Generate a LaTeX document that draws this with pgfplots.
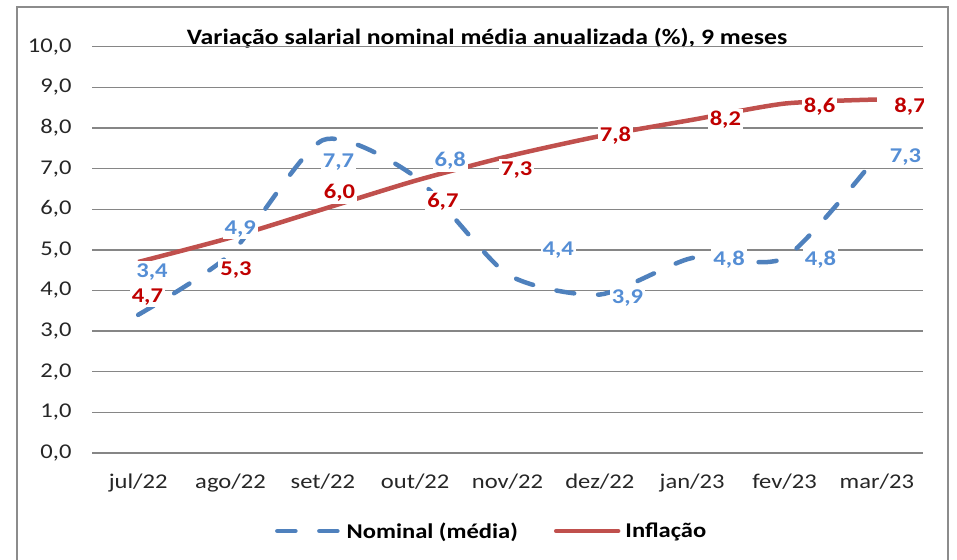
\documentclass[border=0pt]{standalone}
\usepackage{pgfplots}
\pgfplotsset{compat=1.18}
\usepackage{fontspec}
\setmainfont{Carlito}[FakeStretch=1.17]
\definecolor{serblue}{HTML}{4F81BD}
\definecolor{serred}{HTML}{C0504D}
\definecolor{lblblue}{HTML}{558ED5}
\definecolor{lblred}{HTML}{C00000}
\definecolor{gridgray}{HTML}{868686}
\definecolor{framegray}{HTML}{8C8C8C}
\pgfplotsset{
  legdash/.style={legend image code/.code={\draw[##1, line cap=round, dash pattern=on 18pt off 24pt] (0pt,0pt) -- (62pt,0pt);}},
  legsolid/.style={legend image code/.code={\draw[##1, line cap=round] (0pt,0pt) -- (62pt,0pt);}},
}
\begin{document}
\begin{tikzpicture}[x=1pt,y=1pt]
\useasboundingbox (0,0) rectangle (957,559);
\draw[framegray, line width=1.5pt] (17,-10) -- (17,552) -- (948,552) -- (948,-10);
\node[anchor=base, font=\fontsize{22}{26}\selectfont\bfseries] at (487,514) {Variação salarial nominal média anualizada (\%), 9 meses};
\begin{axis}[
  at={(92pt,106pt)}, anchor=south west,
  scale only axis, width=831pt, height=406.3pt,
  xmin=-0.5, xmax=8.5, ymin=0, ymax=10,
  xtick={0,...,8},
  xticklabels={jul/22,ago/22,set/22,out/22,nov/22,dez/22,jan/23,fev/23,mar/23},
  ytick={0,...,10},
  axis line style={draw=none},
  major tick length=0pt,
  ymajorgrids,
  grid style={gridgray, line width=1.4pt},
  tick label style={font=\fontsize{21}{25}\selectfont, text=black!85},
  /pgf/number format/assume math mode=true,
  yticklabel style={/pgf/number format/fixed, /pgf/number format/fixed zerofill, /pgf/number format/precision=1, /pgf/number format/use comma, xshift=-17pt},
  xticklabel style={yshift=-17pt},
  legend style={at={(0.481,-0.192)}, anchor=center, draw=none, fill=none,
    legend columns=2, font=\fontsize{21}{25}\selectfont\bfseries,
    /tikz/every even column/.append style={column sep=34pt},
    /tikz/every odd column/.append style={column sep=3pt}},
  legend cell align=left,
]
\addplot[serblue, line width=4.5pt, line cap=round, dash pattern=on 18pt off 24pt, smooth, tension=0.4, legdash]
  coordinates {(0,3.4) (1,4.9) (2,7.7) (3,6.8) (4,4.4) (5,3.9) (6,4.8) (7,4.8) (8,7.3)};
\addlegendentry{Nominal (média)}
\addplot[serred, line width=4.5pt, smooth, tension=0.4, legsolid]
  coordinates {(0,4.7) (1,5.3) (2,6.0) (3,6.7) (4,7.3) (5,7.8) (6,8.2) (7,8.6) (8,8.7)};
\addlegendentry{Inflação}
\begin{scope}[every node/.style={fill=white, inner sep=2pt, font=\fontsize{21}{25}\selectfont\bfseries}]
\node[text=lblblue] at (axis cs:0.15,4.46) {3,4};
\node[text=lblblue] at (axis cs:1.105,5.52) {4,9};
\node[text=lblblue] at (axis cs:2.17,7.17) {7,7};
\node[text=lblblue] at (axis cs:3.38,7.19) {6,8};
\node[text=lblblue] at (axis cs:4.55,5.0) {4,4};
\node[text=lblblue] at (axis cs:5.30,3.82) {3,9};
\node[text=lblblue] at (axis cs:6.40,4.75) {4,8};
\node[text=lblblue] at (axis cs:7.39,4.75) {4,8};
\node[text=lblblue] at (axis cs:8.31,7.29) {7,3};
\node[text=lblred] at (axis cs:0.10,3.84) {4,7};
\node[text=lblred] at (axis cs:1.06,4.51) {5,3};
\node[text=lblred] at (axis cs:2.18,6.40) {6,0};
\node[text=lblred] at (axis cs:3.30,6.18) {6,7};
\node[text=lblred] at (axis cs:4.10,6.97) {7,3};
\node[text=lblred] at (axis cs:5.17,7.81) {7,8};
\node[text=lblred] at (axis cs:6.36,8.20) {8,2};
\node[text=lblred] at (axis cs:7.38,8.52) {8,6};
\node[text=lblred] at (axis cs:8.36,8.52) {8,7};
\end{scope}
\end{axis}
\end{tikzpicture}
\end{document}
